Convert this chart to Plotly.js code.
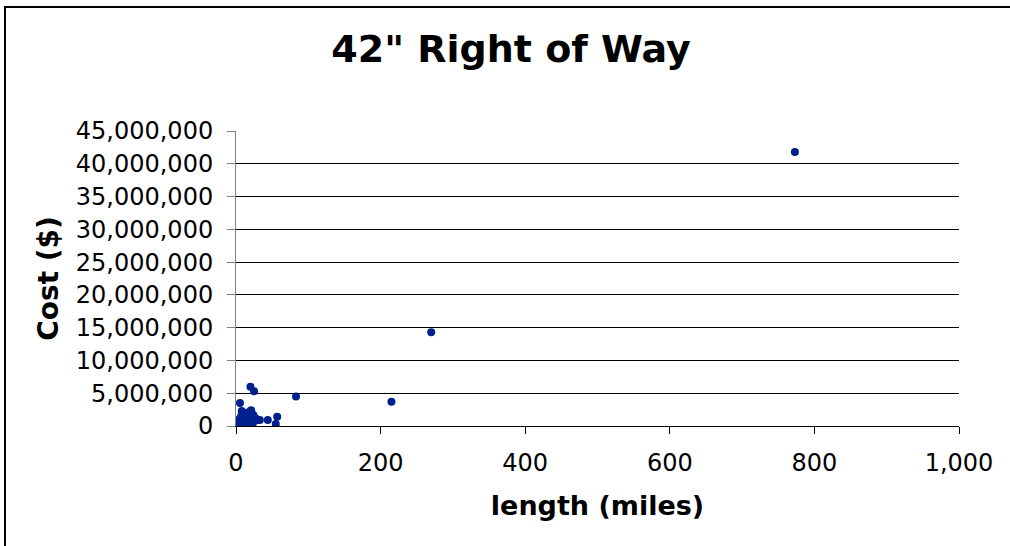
<!DOCTYPE html>
<html>
<head>
<meta charset="utf-8">
<script src="https://cdn.plot.ly/plotly-3.0.1.min.js"></script>
<style>
html,body{margin:0;padding:0;background:#fff;}
#chart{width:1010px;height:546px;}
</style>
</head>
<body>
<div id="chart"></div>
<script>
// Pipeline length (miles)
const lengthMiles = [0.5, 1, 1.5, 2, 3, 3.5, 4, 5, 5.5, 6, 7, 8, 8.5, 9, 10, 11, 12, 13, 14, 15, 16, 17, 18, 19, 20, 21, 22, 23, 24, 25, 26, 27, 30, 33, 44, 55, 57, 83, 215, 270, 773];
// Right-of-way cost ($)
const costDollars = [50000, 200000, 100000, 400000, 300000, 800000, 500000, 1100000, 3500000, 600000, 1500000, 2300000, 900000, 1200000, 400000, 1800000, 1000000, 700000, 2000000, 1300000, 500000, 1600000, 900000, 2200000, 6000000, 2400000, 1100000, 300000, 1700000, 5300000, 800000, 1200000, 900000, 900000, 900000, 300000, 1400000, 4500000, 3700000, 14300000, 41800000];

const chartTitle = '42" Right of Way';
const xTitle = 'length (miles)';
const yTitle = 'Cost ($)';

const L = 236, R = 51, T = 131, B = 120;
const W = 1010, H = 546;
const pw = W - L - R, ph = H - T - B;

const trace = {
  x: lengthMiles,
  y: costDollars,
  type: 'scatter',
  mode: 'markers',
  marker: {color: '#00208f', size: 8, line: {width: 0}},
  hoverinfo: 'x+y'
};

const font = 'DejaVu Sans, Verdana, sans-serif';

const layout = {
  width: W, height: H,
  margin: {l: L, r: R, t: T, b: B, pad: 0},
  paper_bgcolor: '#ffffff',
  plot_bgcolor: '#ffffff',
  showlegend: false,
  font: {family: font, color: '#000000', size: 24},
  title: {
    text: chartTitle,
    font: {family: font, size: 38, color: '#000000', weight: 'bold'},
    x: 0.506, xref: 'container', xanchor: 'center',
    y: 0.91, yref: 'container', yanchor: 'middle'
  },
  xaxis: {
    range: [0, 1000],
    dtick: 200, tick0: 0,
    tickformat: ',d',
    showgrid: false,
    zeroline: false,
    showline: true, linecolor: '#000000', linewidth: 1,
    ticks: 'outside', ticklen: 7, tickcolor: '#000000', tickwidth: 1,
    ticklabelstandoff: 8,
    tickfont: {family: font, size: 24, color: '#000000'},
    title: {text: xTitle, font: {family: font, size: 27, color: '#000000', weight: 'bold'}, standoff: 20},
    automargin: false,
    fixedrange: true
  },
  yaxis: {
    range: [0, 45000000],
    dtick: 5000000, tick0: 0,
    tickformat: ',d',
    showgrid: true, gridcolor: '#000000', gridwidth: 1,
    zeroline: false,
    showline: true, linecolor: '#808080', linewidth: 1,
    ticks: 'outside', ticklen: 8, tickcolor: '#808080', tickwidth: 1,
    ticklabelstandoff: 9,
    tickfont: {family: font, size: 24, color: '#000000'},
    title: {text: yTitle, font: {family: font, size: 28, color: '#000000', weight: 'bold'}, standoff: 8},
    automargin: false,
    fixedrange: true
  },
  separators: '.,',
  shapes: [{
    type: 'rect', xref: 'paper', yref: 'paper',
    x0: (5 - L) / pw, x1: (1030 - L) / pw,
    y0: -((560 - (H - B)) / ph), y1: ((H - B) - 7) / ph,
    line: {color: '#000000', width: 2},
    fillcolor: 'rgba(0,0,0,0)', layer: 'below'
  }]
};

Plotly.newPlot('chart', [trace], layout, {displayModeBar: false, staticPlot: true});
</script>
</body>
</html>
